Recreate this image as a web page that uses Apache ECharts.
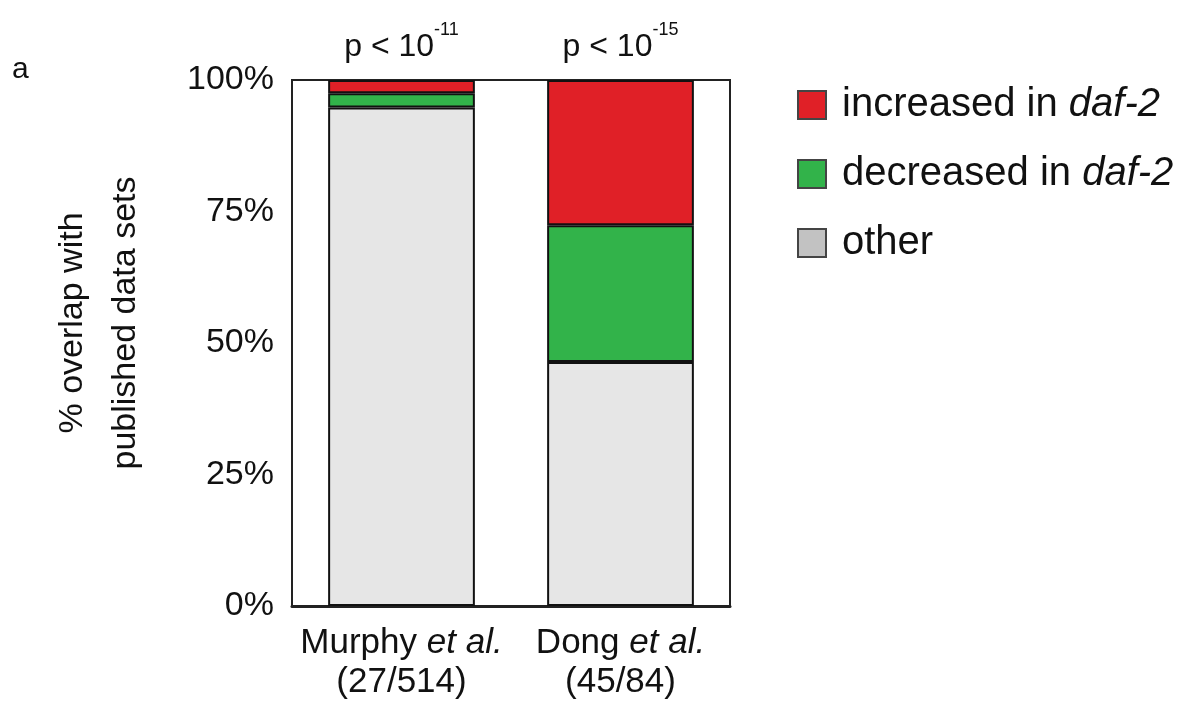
<!DOCTYPE html>
<html><head><meta charset="utf-8">
<script src="https://cdn.jsdelivr.net/npm/echarts@6/dist/echarts.min.js"></script>
<style>html,body{margin:0;padding:0;background:#fff;overflow:hidden}#c{width:1195px;height:709px}</style>
</head><body><div id="c"></div>
<script>
const categories = ['Murphy', 'Dong'];
const categoryCounts = ['(27/514)', '(45/84)'];
const pValueExponents = ['-11', '-15'];
const otherValues = [94.75, 46.4];
const decreasedValues = [2.72, 26.0];
const increasedValues = [2.53, 27.6];
const yTicks = [0, 25, 50, 75, 100];

const FONT = 'Liberation Sans';
const chart = echarts.init(document.getElementById('c'));
const border = {borderColor: '#111', borderWidth: 2};
chart.setOption({
  animation: false,
  textStyle: {fontFamily: FONT},
  title: {text: 'a', left: 7, top: 50, textStyle: {fontFamily: FONT, fontSize: 30, fontWeight: 'normal', color: '#111'}},
  legend: {
    orient: 'vertical', left: 792, top: 80, itemWidth: 28, itemHeight: 28, itemGap: 29, icon: 'rect',
    data: [
      {name: 'increased in daf-2', itemStyle: {color: '#E02027', borderColor: '#444', borderWidth: 2}},
      {name: 'decreased in daf-2', itemStyle: {color: '#32B34A', borderColor: '#444', borderWidth: 2}},
      {name: 'other', itemStyle: {color: '#C2C2C2', borderColor: '#444', borderWidth: 2}}
    ],
    formatter: n => n.replace('daf-2', '{i|daf-2}'),
    textStyle: {fontFamily: FONT, fontSize: 40, lineHeight: 34, color: '#111', padding: [0,0,0,11],
      rich: {i: {fontFamily: FONT, fontSize: 40, lineHeight: 34, fontStyle: 'italic', color: '#111'}}}
  },
  grid: {left: 292, right: 465, top: 80, bottom: 103, show: true, borderColor: '#222', borderWidth: 2},
  xAxis: {
    type: 'category', data: categories,
    axisLine: {lineStyle: {color: '#222', width: 3}}, axisTick: {show: false},
    axisLabel: {
      interval: 0, margin: 18, color: '#111', fontSize: 35, lineHeight: 39,
      formatter: (v, i) => v + ' {i|et al.}\n' + categoryCounts[i],
      rich: {i: {fontStyle: 'italic', fontSize: 35, lineHeight: 39, color: '#111', fontFamily: FONT}}
    }
  },
  yAxis: {
    type: 'value', min: 0, max: 100, interval: 25,
    name: '% overlap with\npublished data sets', nameLocation: 'middle', nameRotate: 90, nameGap: 140,
    nameTextStyle: {fontFamily: FONT, fontSize: 34, color: '#111', lineHeight: 53, padding: [0, 0, 0, 40]},
    axisLine: {show: false}, axisTick: {show: false}, splitLine: {show: false},
    axisLabel: {margin: 18, color: '#111', fontSize: 34, padding: [6, 0, 0, 0],
      formatter: v => yTicks.includes(v) ? v + '%' : ''}
  },
  series: [
    {name: 'other', type: 'bar', stack: 's', barWidth: '67%', data: otherValues,
     itemStyle: Object.assign({color: '#E6E6E6'}, border)},
    {name: 'decreased in daf-2', type: 'bar', stack: 's', data: decreasedValues,
     itemStyle: Object.assign({color: '#32B34A'}, border)},
    {name: 'increased in daf-2', type: 'bar', stack: 's', data: increasedValues,
     itemStyle: Object.assign({color: '#E02027'}, border),
     label: {show: true, position: 'top', distance: 17,
       formatter: p => '{b|p < 10}{s|' + pValueExponents[p.dataIndex] + '}',
       rich: {
         b: {fontFamily: FONT, fontSize: 32, color: '#111', verticalAlign: 'bottom', lineHeight: 42},
         s: {fontFamily: FONT, fontSize: 18, color: '#111', verticalAlign: 'top', lineHeight: 42}
       }}}
  ]
});
</script></body></html>
